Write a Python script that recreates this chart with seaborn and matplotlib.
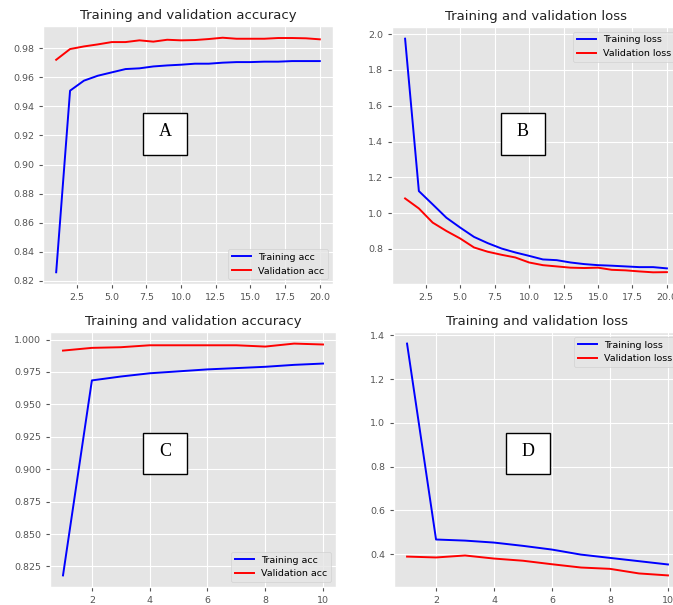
import matplotlib
matplotlib.use("Agg")
import matplotlib.pyplot as plt
from matplotlib.patches import Rectangle
import seaborn as sns

# --- data ---
epochs_20 = list(range(1, 21))
epochs_10 = list(range(1, 11))

acc_a = [0.8257, 0.9509, 0.9578, 0.9612, 0.9635, 0.9658, 0.9663, 0.9676, 0.9683, 0.9688,
         0.9695, 0.9695, 0.9702, 0.9706, 0.9706, 0.9709, 0.9709, 0.9713, 0.9713, 0.9713]
val_acc_a = [0.9722, 0.9796, 0.9814, 0.9828, 0.9844, 0.9844, 0.9856, 0.9847, 0.9860, 0.9856,
             0.9858, 0.9865, 0.9874, 0.9867, 0.9867, 0.9867, 0.9872, 0.9872, 0.9870, 0.9863]

loss_b = [1.975, 1.123, 1.049, 0.974, 0.919, 0.867, 0.832, 0.802, 0.780, 0.761,
          0.741, 0.737, 0.724, 0.715, 0.709, 0.706, 0.702, 0.698, 0.698, 0.691]
val_loss_b = [1.082, 1.026, 0.947, 0.900, 0.858, 0.808, 0.784, 0.767, 0.752, 0.724,
              0.709, 0.702, 0.695, 0.693, 0.695, 0.683, 0.680, 0.674, 0.669, 0.670]

acc_c = [0.8181, 0.9685, 0.9715, 0.9740, 0.9755, 0.9770, 0.9780, 0.9790, 0.9805, 0.9815]
val_acc_c = [0.9915, 0.9936, 0.9941, 0.9956, 0.9956, 0.9956, 0.9956, 0.9946, 0.9969, 0.9962]

loss_d = [1.362, 0.467, 0.462, 0.453, 0.438, 0.421, 0.398, 0.383, 0.368, 0.353]
val_loss_d = [0.389, 0.385, 0.394, 0.380, 0.370, 0.354, 0.339, 0.333, 0.312, 0.303]

plt.style.use("ggplot")
W, H = 673, 605
fig = plt.figure(figsize=(W / 100, H / 100), dpi=100)


def px_axes(left, right, top, bottom):
    return fig.add_axes([left / W, (H - bottom) / H, (right - left) / W, (bottom - top) / H])


panels = [
    # (axes px box, x, train, val, names, title, legend loc, letter, letter-box px box)
    ((43, 333, 26, 284), epochs_20, acc_a, val_acc_a, ("Training acc", "Validation acc"),
     "Training and validation accuracy", "lower right", "A", (143, 187, 113, 155)),
    ((392, 680, 27, 284), epochs_20, loss_b, val_loss_b, ("Training loss", "Validation loss"),
     "Training and validation loss", "upper right", "B", (501, 545, 113, 155)),
    ((50, 336, 332, 587), epochs_10, acc_c, val_acc_c, ("Training acc", "Validation acc"),
     "Training and validation accuracy", "lower right", "C", (143, 187, 433, 474)),
    ((394, 681, 332, 587), epochs_10, loss_d, val_loss_d, ("Training loss", "Validation loss"),
     "Training and validation loss", "upper right", "D", (506, 550, 433, 474)),
]

for box, x, tr, va, names, title, loc, letter, lbox in panels:
    ax = px_axes(*box)
    sns.lineplot(x=x, y=tr, ax=ax, color="blue", label=names[0], linewidth=1.4)
    sns.lineplot(x=x, y=va, ax=ax, color="red", label=names[1], linewidth=1.4)
    ax.set_title(title, fontsize=9.5, color="#222222", pad=5)
    ax.tick_params(labelsize=6.8, colors="#555555", length=3)
    ax.legend(loc=loc, fontsize=6.8)

    # white letter box, placed in axes fractions
    l, r, t, b = box
    bl, br, bt, bb = lbox
    fx0 = (bl - l) / (r - l)
    fy0 = (b - bb) / (b - t)
    fw = (br - bl) / (r - l)
    fh = (bb - bt) / (b - t)
    ax.add_patch(Rectangle((fx0, fy0), fw, fh, transform=ax.transAxes,
                           facecolor="white", edgecolor="black", linewidth=1, zorder=5))
    ax.text(fx0 + fw / 2, fy0 + fh * 0.55, letter, transform=ax.transAxes,
            ha="center", va="center", fontsize=13, family="Liberation Serif", zorder=6)

fig.savefig("out.png", dpi=100)
